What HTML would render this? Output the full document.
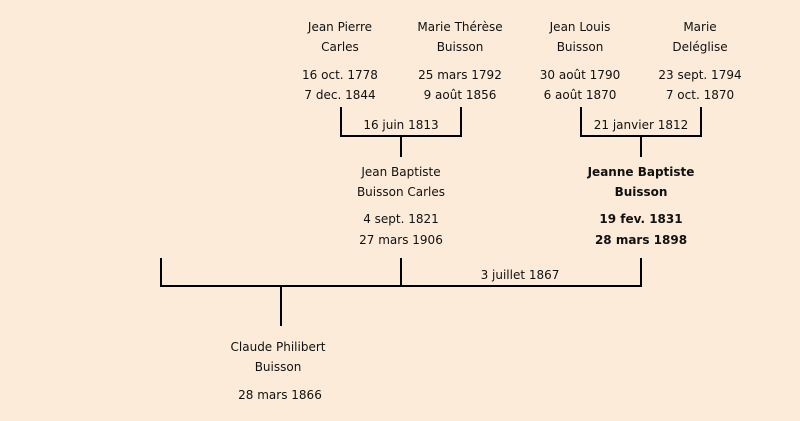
<!DOCTYPE html>
<html><head><meta charset="utf-8"><style>
body{margin:0;width:800px;height:421px;background:#fcebd8;position:relative;overflow:hidden;font-family:"Comic Sans MS","DejaVu Sans","Liberation Sans",sans-serif;font-size:12px;color:#111}
.t{position:absolute;width:160px;margin-left:-80px;text-align:center;line-height:14px;white-space:nowrap}
.b{font-weight:bold}
.l{position:absolute;background:#000}
</style></head><body>
<div class="l" style="left:340px;top:107px;width:2px;height:30px"></div>
<div class="l" style="left:460px;top:107px;width:2px;height:30px"></div>
<div class="l" style="left:340px;top:135px;width:122px;height:2px"></div>
<div class="l" style="left:400px;top:135px;width:2px;height:22px"></div>
<div class="l" style="left:580px;top:107px;width:2px;height:30px"></div>
<div class="l" style="left:700px;top:107px;width:2px;height:30px"></div>
<div class="l" style="left:580px;top:135px;width:122px;height:2px"></div>
<div class="l" style="left:640px;top:135px;width:2px;height:22px"></div>
<div class="l" style="left:160px;top:258px;width:2px;height:29px"></div>
<div class="l" style="left:400px;top:258px;width:2px;height:29px"></div>
<div class="l" style="left:640px;top:258px;width:2px;height:29px"></div>
<div class="l" style="left:160px;top:285px;width:482px;height:2px"></div>
<div class="l" style="left:280px;top:285px;width:2px;height:41px"></div>

<div class="t" style="left:340px;top:20px">Jean Pierre</div>
<div class="t" style="left:340px;top:40px">Carles</div>
<div class="t" style="left:340px;top:68px">16 oct. 1778</div>
<div class="t" style="left:340px;top:88px">7 dec. 1844</div>
<div class="t" style="left:460px;top:20px">Marie Thérèse</div>
<div class="t" style="left:460px;top:40px">Buisson</div>
<div class="t" style="left:460px;top:68px">25 mars 1792</div>
<div class="t" style="left:460px;top:88px">9 août 1856</div>
<div class="t" style="left:580px;top:20px">Jean Louis</div>
<div class="t" style="left:580px;top:40px">Buisson</div>
<div class="t" style="left:580px;top:68px">30 août 1790</div>
<div class="t" style="left:580px;top:88px">6 août 1870</div>
<div class="t" style="left:700px;top:20px">Marie</div>
<div class="t" style="left:700px;top:40px">Deléglise</div>
<div class="t" style="left:700px;top:68px">23 sept. 1794</div>
<div class="t" style="left:700px;top:88px">7 oct. 1870</div>
<div class="t" style="left:401px;top:118px">16 juin 1813</div>
<div class="t" style="left:641px;top:118px">21 janvier 1812</div>
<div class="t" style="left:401px;top:165px">Jean Baptiste</div>
<div class="t" style="left:401px;top:185px">Buisson Carles</div>
<div class="t" style="left:401px;top:212px">4 sept. 1821</div>
<div class="t" style="left:401px;top:233px">27 mars 1906</div>
<div class="t b" style="left:641px;top:165px">Jeanne Baptiste</div>
<div class="t b" style="left:641px;top:185px">Buisson</div>
<div class="t b" style="left:641px;top:212px">19 fev. 1831</div>
<div class="t b" style="left:641px;top:233px">28 mars 1898</div>
<div class="t" style="left:520px;top:268px">3 juillet 1867</div>
<div class="t" style="left:278px;top:340px">Claude Philibert</div>
<div class="t" style="left:278px;top:360px">Buisson</div>
<div class="t" style="left:280px;top:388px">28 mars 1866</div>
</body></html>
